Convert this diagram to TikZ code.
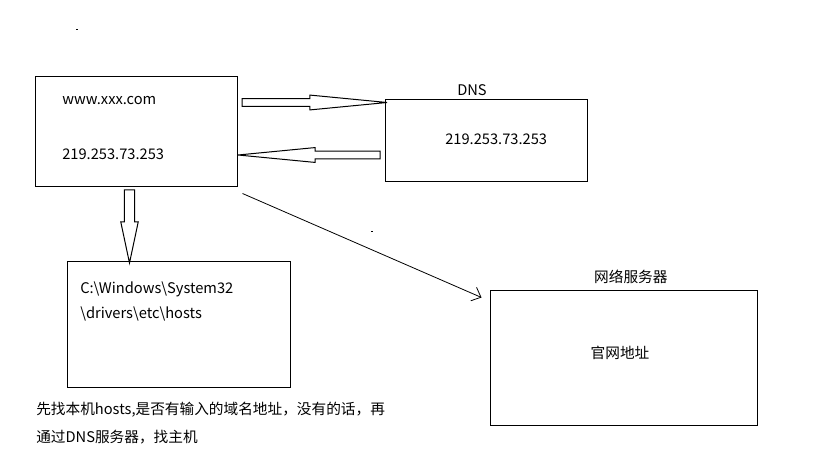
\documentclass[tikz,border=0pt]{standalone}
\usepackage{fontspec}
\setmainfont{Noto Sans CJK SC}
\usepackage{tikz}
\usetikzlibrary{shapes,arrows,arrows.meta,positioning,fit,calc}

\begin{document}
\begin{tikzpicture}[x=0.75pt,y=-0.75pt,
  box/.style={draw,line width=0.75pt,inner sep=0pt},
  txt/.style={font=\fontsize{11pt}{13pt}\selectfont,inner sep=0pt,anchor=west},
  lbl/.style={font=\fontsize{11pt}{13pt}\selectfont,inner sep=0pt},
  fatarrow/.style={draw,line width=0.75pt,single arrow,anchor=tail,text width=0pt,text height=0pt,text depth=0pt},
  node distance=0.5cm
]
\useasboundingbox (0,0) rectangle (819,460);

% boxes
\node[box,minimum width=151.5pt,minimum height=82.5pt] (pc) at (136,132) {};
\node[box,minimum width=151.5pt,minimum height=61.5pt] (dns) at (486,141) {};
\node[box,minimum width=167.25pt,minimum height=93.75pt] (hosts) at (178.5,324.5) {};
\node[box,minimum width=200.25pt,minimum height=101.25pt] (srv) at (623.5,357.5) {};

% texts
\node[txt] (url) at (62,101) {www.xxx.com};
\node[txt] (ip) at (62,154) {219.253.73.253};
\node[lbl,above=3pt of dns.north,xshift=-10.5pt] (dnslbl) {DNS};
\node[txt] (dnsip) at (445,139) {219.253.73.253};
\node[txt] (path1) at (80,289) {C:\textbackslash Windows\textbackslash System32};
\node[txt] (path2) at (80,314) {\textbackslash drivers\textbackslash etc\textbackslash hosts};
\node[lbl,above=4pt of srv.north,xshift=5.5pt] (srvlbl) {网络服务器};
\node[lbl] (site) at (620,353) {官网地址};
\node[txt] (note1) at (36,410) {先找本机hosts,是否有输入的域名地址，没有的话，再};
\node[txt] (note2) at (36,437) {通过DNS服务器，找主机};

% arrows
\node[fatarrow,inner sep=2.6pt,minimum height=108.75pt,single arrow head extend=2.6pt,single arrow tip angle=11] (ask) at ([xshift=3]pc.east |- 0,102.5) {};
\node[fatarrow,inner sep=2.6pt,minimum height=106.5pt,single arrow head extend=2.6pt,single arrow tip angle=11,rotate=180] (answer) at ([xshift=-3]dns.west |- 0,155) {};
\node[fatarrow,inner sep=3.4pt,minimum height=54.75pt,single arrow head extend=2.8pt,single arrow tip angle=24,rotate=-90] (look) at ([yshift=-1.5pt]pc.south -| 129.5,0) {};
\draw[line width=0.6pt,-{Straight Barb[length=6pt,width=11pt]}] ([shift={(5,6)}]pc.south east) -- ([shift={(-8,8)}]srv.north west);

% stray dots
\fill (76,29) rectangle ++(1.5,1.5);
\fill (371,231) rectangle ++(1.5,1.5);
\end{tikzpicture}
\end{document}
